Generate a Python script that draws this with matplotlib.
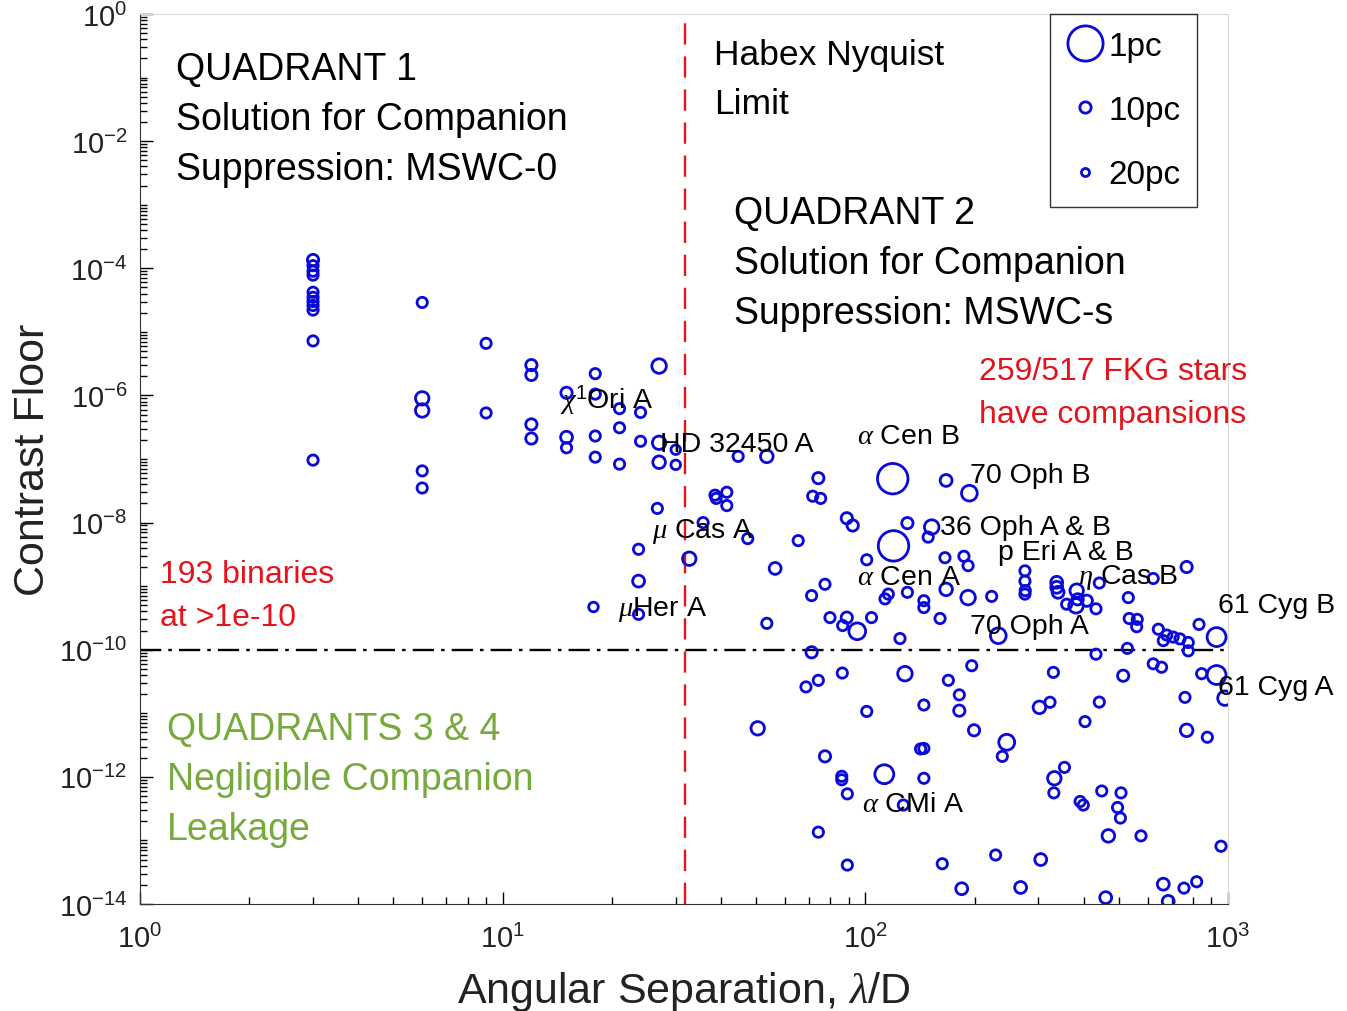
import numpy as np
import matplotlib
matplotlib.use("Agg")
import matplotlib.pyplot as plt
from matplotlib.lines import Line2D
from matplotlib.ticker import LogLocator, FixedLocator, NullFormatter, FuncFormatter

plt.rcParams['font.family'] = ['Liberation Sans', 'DejaVu Sans']
plt.rcParams['mathtext.fontset'] = 'custom'
plt.rcParams['mathtext.rm'] = 'Liberation Sans'
plt.rcParams['mathtext.it'] = 'Liberation Serif:italic'
plt.rcParams['mathtext.bf'] = 'Liberation Sans:bold'
plt.rcParams['axes.unicode_minus'] = False

# ---------------- data ----------------
separation = [
    3.0, 3.0, 3.0, 3.0, 3.0, 3.0, 3.0, 3.0, 3.0, 3.0, 3.0,
    6.0, 6.0, 6.0, 6.0, 6.0, 9.0, 9.0,
    12, 12, 12, 12, 15, 15, 15, 18, 18, 18, 18, 21, 21, 21, 24, 24,
    27, 27, 27, 30, 30, 17.8, 23.7, 23.7, 23.7, 26.7, 32.7, 35.7,
    38.5, 41.5, 38.8, 41.5, 44.6, 53.5, 47.4, 65.3, 56.4, 53.5,
    74.2, 71.6, 75.3, 71.1, 77.4, 88.9, 92.3, 100.9, 119, 119.6,
    130.6, 115.7, 113.3, 130.6, 79.9, 88.9, 86.6, 95, 104, 124.6, 71.1,
    167, 193.6, 152.4, 149, 165.8, 187, 192, 145, 145, 167, 160.7, 192,
    223, 232.6, 275.5, 275.5, 276, 275.5, 337, 337, 340, 382.6, 381,
    408, 359, 385, 432.5, 441.7, 531, 622, 769, 534, 562, 560, 642.6,
    663, 706, 737, 777, 678, 832, 930, 432.5, 528, 777,
    128.6, 196.5, 169.4, 181.6, 181.6, 145, 330, 302, 323, 441.7, 514,
    622, 656, 761, 846, 930, 981, 68.6, 74.2, 86.4, 100.9, 50.5,
    199.4, 245.4, 238.6, 77.4, 142, 145, 86.1, 86.1, 112.8, 89.2, 145,
    127.3, 403.4, 769, 877, 332, 354, 331, 391, 399, 448.6, 507, 496,
    505, 467.8, 575.6, 956.6, 74.2, 89.2, 163, 228.7, 304.5, 184.4,
    268, 460, 663, 684, 756, 819.6,
]
contrast = [
    1.35e-4, 1.1e-4, 9e-5, 7.8e-5, 4.2e-5, 3.5e-5, 3.0e-5, 2.6e-5, 2.2e-5, 7.2e-6, 9.6e-8,
    2.9e-5, 9e-7, 5.8e-7, 6.5e-8, 3.5e-8, 6.6e-6, 5.3e-7,
    3.0e-6, 2.1e-6, 3.5e-7, 2.1e-7, 1.1e-6, 2.2e-7, 1.5e-7, 2.2e-6, 1.05e-6, 2.3e-7, 1.07e-7,
    6.2e-7, 3.1e-7, 8.3e-8, 5.4e-7, 1.9e-7,
    2.9e-6, 1.8e-7, 8.9e-8, 1.4e-7, 8.1e-8, 4.7e-10, 3.8e-9, 1.2e-9, 3.6e-10, 1.67e-8, 2.7e-9, 1.0e-8,
    2.7e-8, 3.0e-8, 2.4e-8, 1.85e-8, 1.1e-7, 1.1e-7, 5.6e-9, 5.2e-9, 1.9e-9, 2.6e-10,
    5.0e-8, 2.6e-8, 2.4e-8, 7.1e-10, 1.07e-9, 1.17e-8, 9e-9, 2.6e-9, 4.9e-8, 4.3e-9,
    9.8e-9, 7.5e-10, 6.3e-10, 8e-10, 3.2e-10, 3.2e-10, 2.4e-10, 1.95e-10, 3.2e-10, 1.5e-10, 9.1e-11,
    4.6e-8, 2.9e-8, 8.5e-9, 5.9e-9, 2.8e-9, 2.95e-9, 2.1e-9, 5.9e-10, 4.6e-10, 8.9e-10, 3.1e-10, 6.6e-10,
    6.9e-10, 1.66e-10, 1.74e-9, 1.2e-9, 8.5e-10, 7.5e-10, 1.15e-9, 9.6e-10, 8e-10, 8.5e-10, 4.9e-10,
    5.9e-10, 5.2e-10, 6.2e-10, 4.4e-10, 1.12e-9, 6.6e-10, 1.32e-9, 2.0e-9, 3.1e-10, 3.0e-10, 2.3e-10, 2.1e-10,
    1.39e-10, 1.58e-10, 1.48e-10, 1.3e-10, 1.7e-10, 2.5e-10, 1.58e-10, 8.5e-11, 1.05e-10, 9.6e-11,
    4.2e-11, 5.6e-11, 3.3e-11, 1.95e-11, 1.1e-11, 1.35e-11, 4.4e-11, 1.24e-11, 1.49e-11, 1.5e-11, 3.9e-11,
    6e-11, 5.3e-11, 1.78e-11, 4.2e-11, 4e-11, 1.73e-11, 2.6e-11, 3.3e-11, 4.3e-11, 1.07e-11, 5.8e-12,
    5.4e-12, 3.5e-12, 2.1e-12, 2.1e-12, 2.75e-12, 2.8e-12, 1.02e-12, 9e-13, 1.1e-12, 5.4e-13, 9.5e-13,
    3.6e-13, 7.4e-12, 5.4e-12, 4.2e-12, 9.5e-13, 1.41e-12, 5.6e-13, 4.1e-13, 3.6e-13, 6e-13, 5.6e-13, 3.3e-13,
    2.25e-13, 1.18e-13, 1.18e-13, 8.1e-14, 1.35e-13, 4.1e-14, 4.3e-14, 5.9e-14, 5e-14, 1.74e-14,
    1.82e-14, 1.26e-14, 2.05e-14, 1.1e-14, 1.78e-14, 2.24e-14,
]
distance_pc = [
    10, 12, 12, 12, 12, 12, 12, 12, 12, 12, 12,
    12, 7, 7, 12, 12, 12, 12,
    10, 10, 10, 10, 10, 9, 12, 12, 12, 12, 12, 12, 12, 12, 12, 12,
    6, 7, 8, 14, 14, 14, 12, 9, 12, 12, 7, 12,
    12, 12, 12, 12, 12, 8, 12, 12, 9, 12,
    10, 12, 12, 12, 12, 10, 10, 12, 1.34, 1.34,
    10, 12, 12, 12, 12, 10, 12, 4.5, 12, 12, 10,
    9, 5.1, 6, 12, 12, 12, 12, 12, 12, 8, 12, 6,
    12, 5.1, 12, 12, 12, 12, 9, 9, 9, 7, 6,
    10, 12, 10, 12, 12, 12, 12, 10, 12, 12, 12, 12,
    12, 12, 12, 12, 12, 12, 3.5, 12, 12, 12,
    6, 12, 12, 12, 10, 12, 12, 8, 12, 12, 10,
    12, 12, 12, 12, 3.5, 6, 12, 12, 12, 12, 7,
    10, 5, 12, 10, 12, 12, 12, 12, 3.5, 12, 12,
    12, 12, 8, 12, 7, 12, 12, 12, 12, 12, 12, 12,
    12, 8, 12, 12, 12, 12, 12, 12, 9, 9,
    9, 9, 9, 9, 12, 12,
]

star_names = [r'$\alpha$ Cen B', '70 Oph B', '36 Oph A & B', 'p Eri A & B', r'$\eta$ Cas B',
              r'$\alpha$ Cen A', '70 Oph A', '61 Cyg B', '61 Cyg A', r'$\alpha$ CMi A',
              'HD 32450 A', r'$\chi$$^{1}$Ori A', r'$\mu$ Cas A', r'$\mu$Her A']
star_label_x = [94.8, 194.4, 160.7, 232, 386, 94.8, 194.4, 938, 938, 97.9, 27.2, 14.4, 25.8, 20.8]
star_label_y = [2.3e-7, 5.6e-8, 8.5e-9, 3.4e-9, 1.44e-9, 1.39e-9, 2.36e-10, 5.0e-10, 2.6e-11,
                3.7e-13, 1.7e-7, 8.8e-7, 7.6e-9, 4.4e-10]

nyquist_limit = 31.8
contrast_threshold = 1e-10
legend_distances = [1, 10, 20]
legend_labels = ['1pc', '10pc', '20pc']

# ---------------- style ----------------
BLUE = '#0a0ad8'
RED = '#e3141c'
GREEN = '#76aa3a'
DPI = 100
PX2PT = 72.0 / DPI
LW_PX = 2.8


def marker_pt(d):
    # outer diameter in px shrinks with distance; minus stroke width, converted to points
    outer = 35.0 / np.sqrt(np.asarray(d, float)) + 3.0
    return (outer - LW_PX) * PX2PT


fig = plt.figure(figsize=(13.47, 10.12), dpi=DPI)
ax = fig.add_axes([140 / 1347, 1 - 905 / 1012, 1088 / 1347, 890 / 1012])

ax.scatter(separation, contrast, s=marker_pt(distance_pc) ** 2, facecolors='none',
           edgecolors=BLUE, linewidths=LW_PX * PX2PT, zorder=3)

ax.set_xscale('log')
ax.set_yscale('log')
ax.set_xlim(1, 1000)
ax.set_ylim(1e-14, 1)

ax.axvline(nyquist_limit, color=RED, lw=1.7, ls=(0, (9, 5)), zorder=2)
ax.axhline(contrast_threshold, color='black', lw=1.7, ls=(0, (9, 3, 1.5, 3)), zorder=2)


def pow_fmt(v, pos):
    e = int(round(np.log10(v)))
    return r'$\mathdefault{10^{%d}}$' % e


# ticks
ax.xaxis.set_major_locator(FixedLocator([1, 10, 100, 1000]))
ax.xaxis.set_major_formatter(FuncFormatter(pow_fmt))
ax.xaxis.set_minor_locator(LogLocator(base=10, subs=np.arange(2, 10), numticks=50))
ax.xaxis.set_minor_formatter(NullFormatter())
ax.yaxis.set_major_locator(FixedLocator([10.0 ** e for e in range(-14, 1, 2)]))
ax.yaxis.set_major_formatter(FuncFormatter(pow_fmt))
ax.yaxis.set_minor_locator(LogLocator(base=10, subs=np.arange(1, 10), numticks=50))
ax.yaxis.set_minor_formatter(NullFormatter())
ax.tick_params(which='both', direction='in', top=False, right=False, labelsize=21,
               colors='black', labelcolor='#222222')
ax.tick_params(which='major', length=9, width=1)
ax.tick_params(which='minor', length=5, width=1)
ax.tick_params(axis='x', pad=14)
ax.tick_params(axis='y', pad=9)
for side in ['top', 'right']:
    ax.spines[side].set_color('#d8d8d8')
for side in ['left', 'bottom']:
    ax.spines[side].set_color('#333333')

ax.set_xlabel(r'Angular Separation, $\lambda$/D', fontsize=31, color='#222222', labelpad=12)
ax.set_ylabel('Contrast Floor', fontsize=31, color='#222222', labelpad=4)


def px(xp):
    return (xp - 140) / 1088


def py(yp):
    return (905 - yp) / 890


def block(x, ys, lines, color, size):
    for y, t in zip(ys, lines):
        ax.text(px(x), py(y), t, transform=ax.transAxes, fontsize=size, color=color,
                ha='left', va='center')


block(176, [70, 120, 170], ['QUADRANT 1', 'Solution for Companion', 'Suppression: MSWC-0'], 'black', 27)
block(714, [55, 105], ['Habex Nyquist', 'Limit'], 'black', 25.5)
block(734, [214, 264, 314], ['QUADRANT 2', 'Solution for Companion', 'Suppression: MSWC-s'], 'black', 27)
block(979, [372, 415], ['259/517 FKG stars', 'have compansions'], RED, 23)
block(160, [575, 618], ['193 binaries', 'at >1e-10'], RED, 23)
block(167, [730, 780, 830], ['QUADRANTS 3 & 4', 'Negligible Companion', 'Leakage'], GREEN, 27)

for name, lx, ly in zip(star_names, star_label_x, star_label_y):
    ax.text(lx, ly, name, fontsize=20.5, color='black', ha='left', va='center', zorder=4,
            clip_on=False)

handles = [Line2D([], [], ls='', marker='o', mfc='none', mec=BLUE, mew=LW_PX * PX2PT,
                  ms=float(marker_pt(d))) for d in legend_distances]
leg = ax.legend(handles, legend_labels, loc='upper right', bbox_to_anchor=(px(1197), 1.0),
                fontsize=24, frameon=True, fancybox=False, edgecolor='black',
                labelspacing=1.0, handlelength=1.1, handletextpad=0.15, borderpad=0.5,
                borderaxespad=0.0)
leg.get_frame().set_linewidth(1.0)

fig.savefig('out.png', dpi=DPI)
